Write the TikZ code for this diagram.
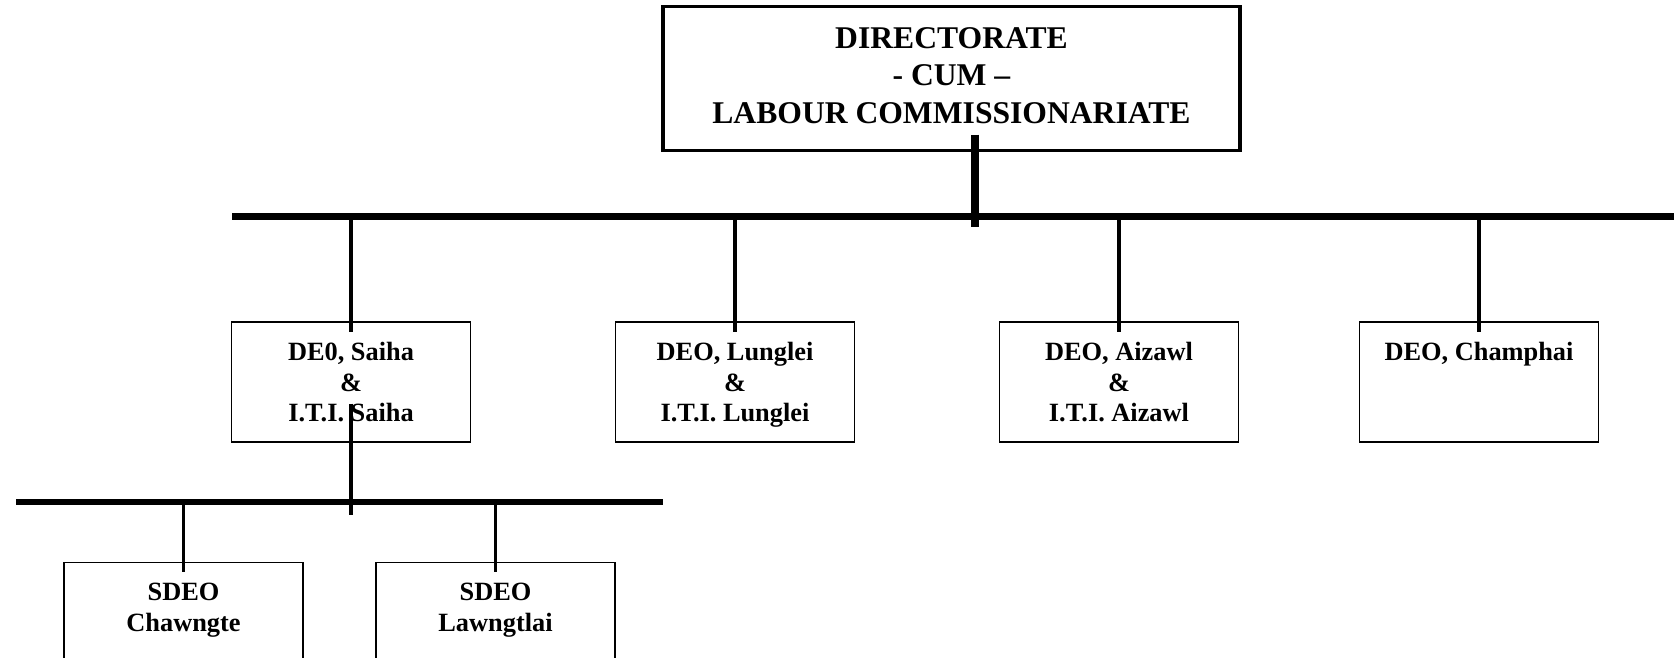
\documentclass[tikz,border=0pt]{standalone}
\usepackage{fontspec}
\setmainfont{Liberation Serif}
\usetikzlibrary{calc}

\begin{document}
\begin{tikzpicture}[x=0.02cm, y=-0.02cm,
  every node/.style={font=\bfseries\fontsize{15}{17.4}\selectfont, align=center},
  head/.style={draw, line width=2pt, minimum width=11.54cm, minimum height=2.88cm,
    text depth=3.6pt, font=\bfseries\fontsize{18}{21.5}\selectfont},
  office/.style={draw, line width=0.7pt, minimum width=4.78cm, minimum height=2.4cm,
    text depth=0pt},
  bus/.style={line width=3.8pt},
  drop/.style={line width=2pt}]
  \useasboundingbox (0,0) rectangle (1674,658);
  \clip (0,0) rectangle (1674,658);

  % head office
  \node[head] (dir) at (951.5,78.5) {DIRECTORATE\\- CUM –\\LABOUR COMMISSIONARIATE};

  % district offices
  \node[office] (saiha) at (351,382) {DE0, Saiha\\\&\\I.T.I. Saiha};
  \node[office] (lunglei) at (735,382) {DEO, Lunglei\\\&\\I.T.I. Lunglei};
  \node[office] (aizawl) at (1119,382) {DEO, Aizawl\\\&\\I.T.I. Aizawl};
  \node[office] (champhai) at (1479,382) {DEO, Champhai\\\mbox{}\\\mbox{}};

  % sub-district offices
  \node[office] (chawngte) at (183.5,622.6) {SDEO\\Chawngte\\\mbox{}};
  \node[office] (lawngtlai) at (495.5,622.6) {SDEO\\Lawngtlai\\\mbox{}};

  % bus lines
  \coordinate (busL) at (232,216.7);
  \coordinate (busR) at (1674,216.7);
  \draw[bus] (busL) -- (busR);
  \coordinate (subL) at (16,502);
  \coordinate (subR) at (663,502);
  \draw[bus, line width=3.4pt] (subL) -- (subR);

  \draw[line width=4pt] ($(dir.south)+(23.5,-17.5)$) -- ($(dir.south |- busL)+(23.5,10)$);
  \foreach \n in {saiha,lunglei,aizawl,champhai}
    \draw[drop] (\n.north |- busL) -- ($(\n.north)+(0,11)$);
  \draw[drop] ($(saiha.south)+(0,-39)$) -- ($(saiha.south |- subL)+(0,12.6)$);
  \foreach \n in {chawngte,lawngtlai}
    \draw[drop] (\n.north |- subL) -- ($(\n.north)+(0,10)$);
\end{tikzpicture}
\end{document}
